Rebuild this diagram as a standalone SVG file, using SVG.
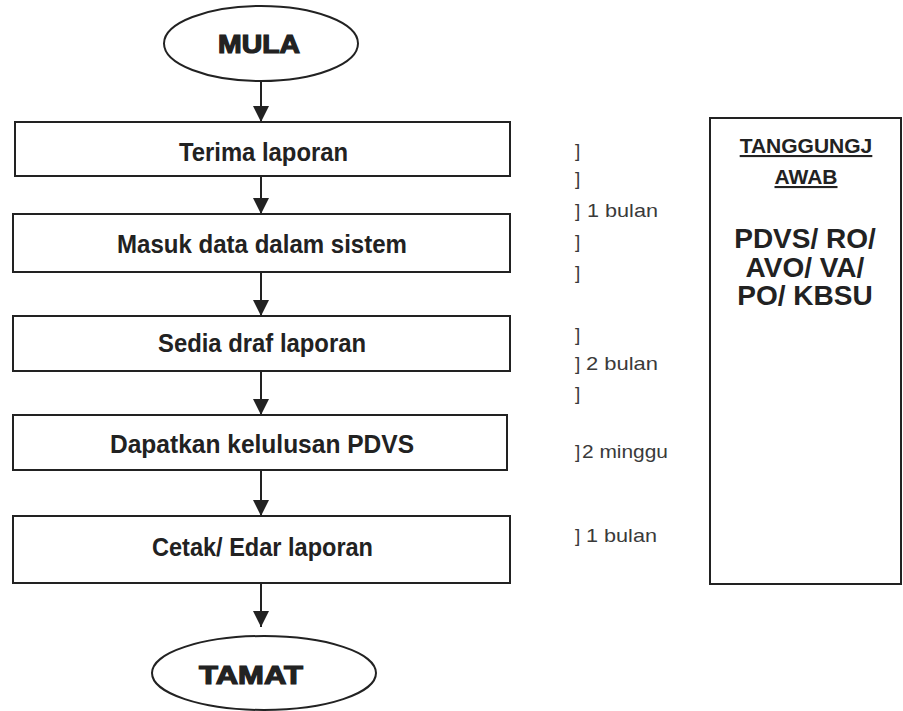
<svg xmlns="http://www.w3.org/2000/svg" width="903" height="711" viewBox="0 0 903 711">
  <defs>
    <marker id="arrow" markerUnits="userSpaceOnUse" markerWidth="16" markerHeight="16" refX="16" refY="8" orient="auto">
      <path d="M0,0 L16,8 L0,16 z" fill="#222"/>
    </marker>
    <style>
      .shape { fill: #fff; stroke: #222; stroke-width: 2; }
      .term { font-family: "Liberation Sans", Arial, sans-serif; font-weight: bold; font-size: 25px; fill: #222; stroke: #222; stroke-width: 1.2; text-anchor: middle; }
      .lbl { font-family: "Liberation Sans", Arial, sans-serif; font-weight: bold; font-size: 25px; fill: #222; text-anchor: middle; }
      .time { font-family: "Liberation Sans", Arial, sans-serif; font-size: 19px; fill: #3a3a3a; }
      .resp { font-family: "Liberation Sans", Arial, sans-serif; font-weight: bold; font-size: 21px; fill: #222; text-anchor: middle; text-decoration: underline; }
      .who { font-family: "Liberation Sans", Arial, sans-serif; font-weight: bold; font-size: 28px; fill: #222; text-anchor: middle; }
      .conn { stroke: #222; stroke-width: 2; fill: none; marker-end: url(#arrow); }
    </style>
  </defs>
  <rect width="903" height="711" fill="#fff"/>

  <g id="connectors">
    <line class="conn" x1="261" y1="81" x2="261" y2="122"/>
    <line class="conn" x1="261" y1="176" x2="261" y2="214"/>
    <line class="conn" x1="261" y1="272" x2="261" y2="316"/>
    <line class="conn" x1="261" y1="371" x2="261" y2="415"/>
    <line class="conn" x1="261" y1="470" x2="261" y2="516"/>
    <line class="conn" x1="261" y1="583" x2="261" y2="627"/>
  </g>

  <g id="mula">
    <ellipse class="shape" cx="261" cy="43.5" rx="97" ry="37.5"/>
    <text class="term" x="259" y="53" textLength="82" lengthAdjust="spacingAndGlyphs">MULA</text>
  </g>

  <g id="terima">
    <rect class="shape" x="15" y="122" width="495" height="54"/>
    <text class="lbl" x="263.5" y="161" textLength="169" lengthAdjust="spacingAndGlyphs">Terima laporan</text>
  </g>

  <g id="masuk">
    <rect class="shape" x="13" y="214" width="497" height="58"/>
    <text class="lbl" x="262" y="253" textLength="290" lengthAdjust="spacingAndGlyphs">Masuk data dalam sistem</text>
  </g>

  <g id="sedia">
    <rect class="shape" x="13" y="316" width="497" height="55"/>
    <text class="lbl" x="262" y="352" textLength="208" lengthAdjust="spacingAndGlyphs">Sedia draf laporan</text>
  </g>

  <g id="dapatkan">
    <rect class="shape" x="13" y="415" width="494" height="55"/>
    <text class="lbl" x="262" y="453" textLength="304" lengthAdjust="spacingAndGlyphs">Dapatkan kelulusan PDVS</text>
  </g>

  <g id="cetak">
    <rect class="shape" x="13" y="516" width="497" height="67"/>
    <text class="lbl" x="262.5" y="556" textLength="221" lengthAdjust="spacingAndGlyphs">Cetak/ Edar laporan</text>
  </g>

  <g id="tamat">
    <ellipse class="shape" cx="264" cy="673" rx="112" ry="37"/>
    <text class="term" x="251" y="684" textLength="104" lengthAdjust="spacingAndGlyphs">TAMAT</text>
  </g>

  <g id="durations">
    <text class="time" x="575" y="157">]</text>
    <text class="time" x="575" y="185">]</text>
    <text class="time" x="575" y="217">]</text>
    <text class="time" x="587" y="217" textLength="71" lengthAdjust="spacingAndGlyphs">1 bulan</text>
    <text class="time" x="575" y="248">]</text>
    <text class="time" x="575" y="279">]</text>
    <text class="time" x="575" y="341">]</text>
    <text class="time" x="575" y="370">]</text>
    <text class="time" x="586" y="370" textLength="72" lengthAdjust="spacingAndGlyphs">2 bulan</text>
    <text class="time" x="575" y="400">]</text>
    <text class="time" x="575" y="458">]</text>
    <text class="time" x="582" y="458" textLength="86" lengthAdjust="spacingAndGlyphs">2 minggu</text>
    <text class="time" x="575" y="542">]</text>
    <text class="time" x="586" y="542" textLength="71" lengthAdjust="spacingAndGlyphs">1 bulan</text>
  </g>

  <g id="tanggungjawab">
    <rect class="shape" x="710" y="118" width="191" height="466"/>
    <text class="resp" x="806" y="153">TANGGUNGJ</text>
    <text class="resp" x="806" y="184">AWAB</text>
    <text class="who" x="805" y="248">PDVS/ RO/</text>
    <text class="who" x="805" y="277">AVO/ VA/</text>
    <text class="who" x="805" y="305">PO/ KBSU</text>
  </g>
</svg>
